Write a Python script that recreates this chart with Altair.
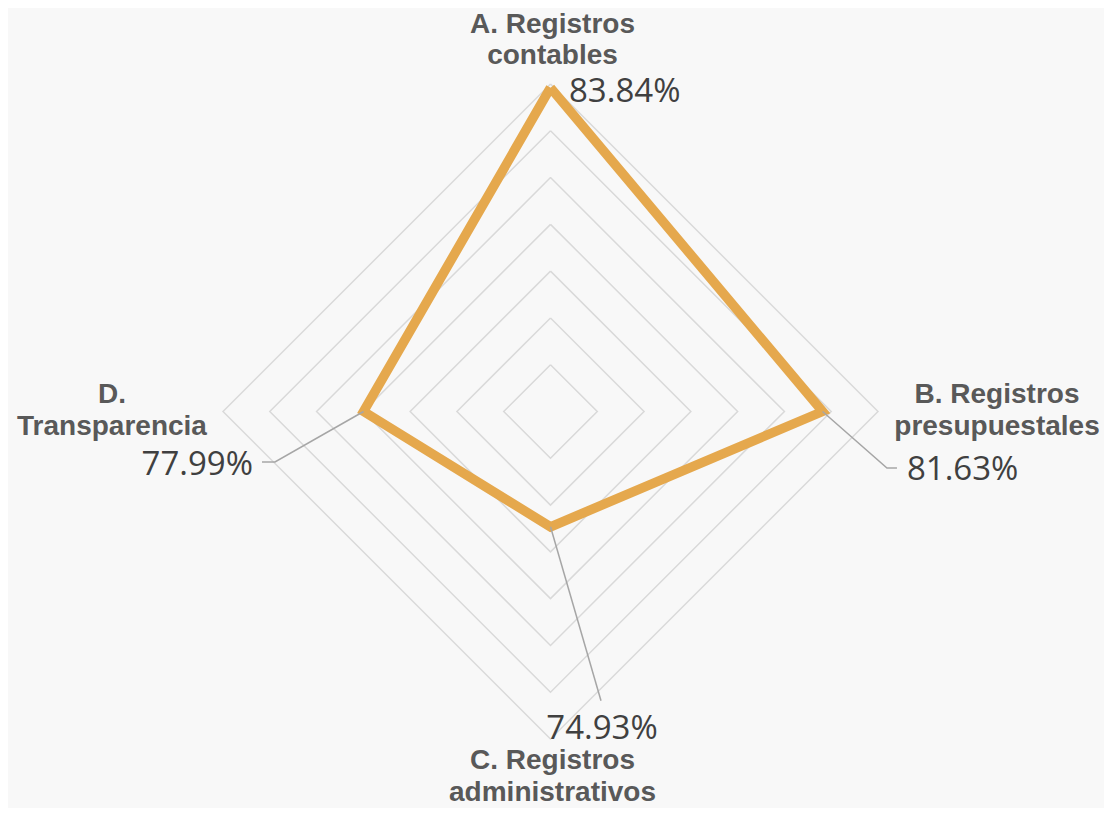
import altair as alt
import pandas as pd
import numpy as np

# ---- data ----
categories = ["A. Registros\ncontables", "B. Registros\npresupuestales",
              "C. Registros\nadministrativos", "D.\nTransparencia"]
values = [83.84, 81.63, 74.93, 77.99]
value_labels = ["83.84%", "81.63%", "74.93%", "77.99%"]
axis_min, axis_max, axis_step = 70, 84, 2

# ---- layout (pixels) ----
W, H = 1096, 800
PX = 327.5            # outer ring radius in px
CX, CY = 542.5, 403.5  # centre inside the view
angles = [0, 90, 180, 270]
# category label offsets (first line) from the outer vertex (px, right / down)
cat_off = [(2, -59.5), (119, -16.5), (2, 22), (-111, -16.5)]
# value label offsets from data point
val_off = [(18.5, 4.3), (84.4, 58.5), (51.5, 202), (-110.6, 53.5)]
val_align = ["left", "left", "center", "right"]
# leader line elbows from the data point
leaders = [[], [(64.4, 56.5), (74.4, 56.5)], [(50.5, 174)], [(-88.6, 50.5), (-101.6, 50.5)]]

def polar(r, ang):
    t = np.deg2rad(ang)
    return r * np.sin(t), r * np.cos(t)

def frac(v):
    return (v - axis_min) / (axis_max - axis_min)

# grid rings
ring_rows = []
n_rings = int((axis_max - axis_min) / axis_step)
for k in range(1, n_rings + 1):
    r = k / n_rings
    for i, a in enumerate(angles + [angles[0]]):
        x, y = polar(r, a)
        ring_rows.append({"ring": k, "o": i, "x": x, "y": y})
rings = pd.DataFrame(ring_rows)

# data polygon
poly_rows = []
for i, (v, a) in enumerate(list(zip(values, angles)) + [(values[0], angles[0])]):
    x, y = polar(frac(v), a)
    poly_rows.append({"o": i, "x": x, "y": y, "val": v})
poly = pd.DataFrame(poly_rows)

# leader lines
lead_rows = []
for i, (v, a) in enumerate(zip(values, angles)):
    if not leaders[i]:
        continue
    x0, y0 = polar(frac(v), a)
    lead_rows.append({"id": i, "o": 0, "x": x0, "y": y0})
    for j, (dx, dy) in enumerate(leaders[i]):
        lead_rows.append({"id": i, "o": j + 1, "x": x0 + dx / PX, "y": y0 - dy / PX})
lead = pd.DataFrame(lead_rows)

# value labels
val_rows = []
for i, (v, a) in enumerate(zip(values, angles)):
    x0, y0 = polar(frac(v), a)
    dx, dy = val_off[i]
    val_rows.append({"x": x0 + dx / PX, "y": y0 - dy / PX, "t": value_labels[i], "al": val_align[i]})
vals = pd.DataFrame(val_rows)

# category labels
cat_rows = []
for i, a in enumerate(angles):
    x0, y0 = polar(1.0, a)
    dx, dy = cat_off[i]
    cat_rows.append({"x": x0 + dx / PX, "y": y0 - dy / PX, "t": categories[i]})
cats = pd.DataFrame(cat_rows)

xs = alt.Scale(domain=[-CX / PX, (W - CX) / PX], nice=False, zero=False)
ys = alt.Scale(domain=[-(H - CY) / PX, CY / PX], nice=False, zero=False)
X = lambda: alt.X("x:Q", scale=xs, axis=None)
Y = lambda: alt.Y("y:Q", scale=ys, axis=None)

grid = alt.Chart(rings).mark_line(color="#d9d9d9", strokeWidth=1.5).encode(
    x=X(), y=Y(), detail="ring:N", order="o:Q")

line = alt.Chart(poly).mark_line(color="#e5a84d", strokeWidth=9.5, strokeJoin="miter",
                                 strokeMiterLimit=10).encode(
    x=X(), y=Y(), order="o:Q")

lead_l = alt.Chart(lead).mark_line(color="#a6a6a6", strokeWidth=1.5).encode(
    x=X(), y=Y(), detail="id:N", order="o:Q")

def val_layer(al):
    return alt.Chart(vals[vals["al"] == al]).mark_text(
        font="Open Sans", fontSize=33, color="#404040", align=al, baseline="middle"
    ).encode(x=X(), y=Y(), text="t:N")

cat_l = alt.Chart(cats).mark_text(
    font="Liberation Sans", fontWeight="bold", fontSize=28, color="#595959",
    align="center", baseline="middle", lineBreak="\n", lineHeight=31.5
).encode(x=X(), y=Y(), text="t:N")

chart = alt.layer(grid, line, lead_l, val_layer("left"), val_layer("center"),
                  val_layer("right"), cat_l).properties(
    width=W, height=H, padding=0, autosize=alt.AutoSizeParams(type="none"),
    background="#f8f8f8"
).configure_view(stroke=None)

chart.save("out.html", embed_options={"renderer": "svg", "actions": False})
